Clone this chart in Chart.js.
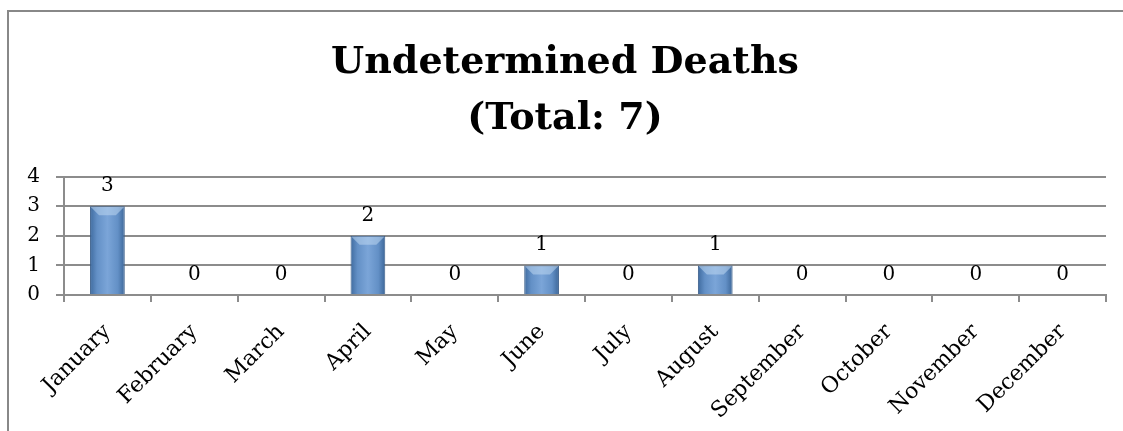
<!DOCTYPE html>
<html>
<head>
<meta charset="utf-8">
<script src="https://cdn.jsdelivr.net/npm/chart.js@4"></script>
<style>
  html, body { margin: 0; padding: 0; background: #fff; overflow: hidden; }
</style>
</head>
<body>
<canvas id="deathsChart" width="1123" height="431"></canvas>
<script>
// ── Undetermined deaths per month ─────────────────────────────────────────────
const MONTHS = ['January', 'February', 'March', 'April', 'May', 'June',
                'July', 'August', 'September', 'October', 'November', 'December'];
const DEATHS = [3, 0, 0, 2, 0, 1, 0, 1, 0, 0, 0, 0];
const Y_TICKS = [0, 1, 2, 3, 4];
const TITLE_LINES = ['Undetermined Deaths', '(Total: 7)'];

const SERIF = '"DejaVu Serif", "Liberation Serif", serif';
const GRID = '#8c8c8c';
const BAR_PCT = 0.4;

// horizontal gradient per bar, like the old Office bevel look
function barFill(ctx) {
  const chart = ctx.chart;
  const xs = chart.scales.x;
  if (!xs || !chart.chartArea) return '#5f8ac0';
  const cx = xs.getPixelForValue(ctx.dataIndex);
  const w = (chart.chartArea.width / MONTHS.length) * BAR_PCT;
  const g = chart.ctx.createLinearGradient(cx - w / 2, 0, cx + w / 2, 0);
  g.addColorStop(0,    '#3f6b9f');
  g.addColorStop(0.2,  '#6390c6');
  g.addColorStop(0.5,  '#7ba5d8');
  g.addColorStop(0.8,  '#6390c6');
  g.addColorStop(1,    '#3c6698');
  return g;
}

// grey frame on the left and top edges
const frame = {
  id: 'frame',
  beforeDraw(chart) {
    const { ctx, width, height } = chart;
    ctx.save();
    ctx.strokeStyle = '#888';
    ctx.lineWidth = 2;
    ctx.beginPath();
    ctx.moveTo(8, height);
    ctx.lineTo(8, 11);
    ctx.lineTo(width, 11);
    ctx.stroke();
    ctx.restore();
  },
};

// light bevel at the top of each bar + value labels (zeros too)
const valueLabels = {
  id: 'valueLabels',
  afterDatasetsDraw(chart) {
    const { ctx } = chart;
    const meta = chart.getDatasetMeta(0);
    ctx.save();
    meta.data.forEach((bar, i) => {
      if (!DEATHS[i]) return;
      const l = bar.x - bar.width / 2 + 1, r = bar.x + bar.width / 2 - 1;
      const b = Math.min(8, (bar.base - bar.y) / 3);
      ctx.fillStyle = 'rgba(190, 215, 240, 0.55)';
      ctx.beginPath();
      ctx.moveTo(l, bar.y + 1);
      ctx.lineTo(r, bar.y + 1);
      ctx.lineTo(r - b, bar.y + 1 + b);
      ctx.lineTo(l + b, bar.y + 1 + b);
      ctx.closePath();
      ctx.fill();
    });
    ctx.font = '20px ' + SERIF;
    ctx.fillStyle = '#000';
    ctx.textAlign = 'center';
    ctx.textBaseline = 'alphabetic';
    meta.data.forEach((bar, i) => {
      ctx.fillText(String(DEATHS[i]), bar.x, bar.y - 15);
    });
    ctx.restore();
  },
};

new Chart(document.getElementById('deathsChart'), {
  type: 'bar',
  data: {
    labels: MONTHS,
    datasets: [{
      label: 'Undetermined Deaths',
      data: DEATHS,
      backgroundColor: barFill,
      borderColor: '#3a5e8a',
      borderWidth: ctx => (ctx.raw ? 1 : 0),
      borderSkipped: 'bottom',
      categoryPercentage: 1,
      barPercentage: BAR_PCT,
    }],
  },
  options: {
    responsive: false,
    animation: false,
    events: [],
    layout: { padding: { left: 24, right: 17, top: 0, bottom: 0 } },
    plugins: {
      legend: { display: false },
      tooltip: { enabled: false },
      title: {
        display: true,
        text: TITLE_LINES,
        color: '#000',
        font: { family: SERIF, size: 38, weight: 'bold', lineHeight: 1.47 },
        padding: { top: 35, bottom: 30 },
      },
    },
    scales: {
      x: {
        afterFit: s => { s.height = 136; },
        grid: { drawOnChartArea: false, drawTicks: true, tickLength: 7, offset: true,
                color: GRID, lineWidth: 2 },
        border: { color: GRID, width: 2 },
        ticks: { color: '#000', font: { family: SERIF, size: 22 },
                 minRotation: 45, maxRotation: 45, padding: 17 },
      },
      y: {
        min: 0,
        max: Y_TICKS[Y_TICKS.length - 1],
        afterFit: s => { s.width = 40; },
        afterBuildTicks: s => { s.ticks = Y_TICKS.map(v => ({ value: v })); },
        grid: { color: GRID, lineWidth: 2, tickLength: 8 },
        border: { color: GRID, width: 2 },
        ticks: { color: '#000', font: { family: SERIF, size: 20 }, padding: 16 },
      },
    },
  },
  plugins: [frame, valueLabels],
});
</script>
</body>
</html>
